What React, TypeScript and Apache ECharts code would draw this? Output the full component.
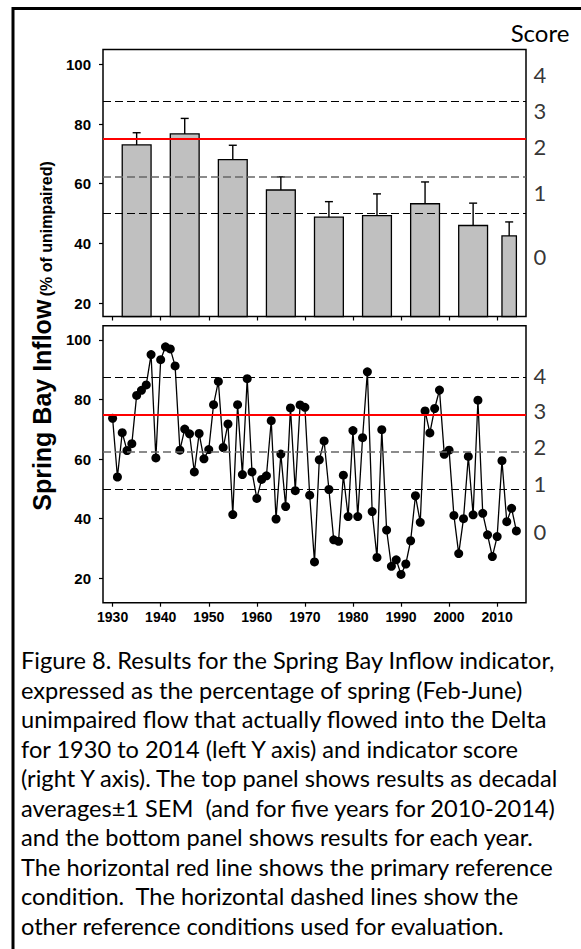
import { useEffect, useRef } from "react";
import * as echarts from "echarts";

// Spring Bay Inflow indicator: decadal means (top) and yearly values (bottom)

const AXIS_FONT = '"Liberation Sans", Arial, sans-serif';
const TEXT_FONT = 'Lato, "Noto Sans", sans-serif';

const X_MIN = 1928;
const X_MAX = 2016;
const TOP_Y_MIN = 15.5;
const TOP_Y_MAX = 105;
const BOT_Y_MIN = 11.8;
const BOT_Y_MAX = 104.8;

const decadeTicks = [1930, 1940, 1950, 1960, 1970, 1980, 1990, 2000, 2010];
const valueTicks = [20, 40, 60, 80, 100];

// top panel: decadal averages +1 SEM (last bar 2010-2014)
const periodCenters = [1935, 1945, 1955, 1965, 1975, 1985, 1995, 2005, 2012.5];
const periodWidths = [6, 6, 6, 6, 6, 6, 6, 6, 3];
const periodMeans = [73.0, 76.7, 68.1, 57.9, 48.8, 49.3, 53.3, 46.0, 42.5];
const periodSem = [4.1, 5.2, 4.8, 4.4, 5.2, 7.3, 7.3, 7.5, 4.7];

// bottom panel: each year 1930-2014
const firstYear = 1930;
const annualValues = [
  73.7, 54.0, 68.9, 62.9, 65.2, 81.4, 83.1, 84.9, 95.1, 60.4,
  93.4, 97.7, 97.0, 91.3, 63.0, 70.1, 68.5, 55.7, 68.6, 60.1,
  63.2, 78.3, 86.1, 63.9, 71.8, 41.4, 78.3, 54.8, 87.0, 55.7,
  46.8, 53.2, 54.4, 72.9, 39.9, 61.7, 44.1, 77.2, 49.4, 78.2,
  77.4, 47.9, 25.5, 59.8, 66.1, 49.8, 32.9, 32.4, 54.6, 40.7,
  69.6, 40.7, 67.2, 89.3, 42.4, 27.0, 69.9, 36.2, 24.0, 26.2,
  21.3, 24.8, 32.6, 47.7, 38.8, 76.2, 68.8, 77.0, 83.2, 61.6,
  63.0, 41.1, 28.3, 40.0, 60.9, 41.3, 79.8, 41.8, 34.6, 27.3,
  34.0, 59.5, 39.0, 43.5, 35.9,
];

// reference conditions
const dashedRefs = [87.5, 50];
const greyRef = 62.5;
const primaryRef = 75;

// score labels on the right, [position, score]
const topScoreAt = [96.7, 84.6, 72.4, 57.0, 35.5];
const bottomScoreAt = [88.2, 76.2, 64.2, 51.9, 35.7];
const scoreLabels = ["4", "3", "2", "1", "0"];

const captionLines = [
  "Figure 8. Results for the Spring Bay Inflow indicator,",
  "expressed as the percentage of spring (Feb-June)",
  "unimpaired flow that actually flowed into the Delta",
  "for 1930 to 2014 (left Y axis) and indicator score",
  "(right Y axis). The top panel shows results as decadal",
  "averages\u00b11 SEM  (and for five years for 2010-2014)",
  "and the bottom panel shows results for each year.",
  "The horizontal red line shows the primary reference",
  "condition.  The horizontal dashed lines show the",
  "other reference conditions used for evaluation.",
];

const xAxisFor = (grid: number, labels: boolean) => ({
  gridIndex: grid,
  type: "value",
  min: X_MIN,
  max: X_MAX,
  splitLine: { show: false },
  axisLine: { show: false, onZero: false },
  axisTick: {
    show: true,
    inside: false,
    length: 4,
    customValues: decadeTicks,
    lineStyle: { color: "#000", width: 1.2 },
  },
  axisLabel: {
    show: labels,
    customValues: decadeTicks,
    formatter: (v: number) => String(v),
    fontFamily: AXIS_FONT,
    fontWeight: "bold",
    fontSize: 14,
    color: "#000",
    margin: 7,
  },
});

const yAxisFor = (grid: number, min: number, max: number) => ({
  gridIndex: grid,
  type: "value",
  min,
  max,
  splitLine: { show: false },
  axisLine: { show: false },
  axisTick: {
    show: true,
    inside: false,
    length: 4,
    customValues: valueTicks,
    lineStyle: { color: "#000", width: 1.2 },
  },
  axisLabel: {
    customValues: valueTicks,
    fontFamily: AXIS_FONT,
    fontWeight: "bold",
    fontSize: 15,
    color: "#000",
    margin: 12,
  },
});

// empty series carrying horizontal reference lines
const refSeries = (grid: number, z: number, lines: any[]) => ({
  type: "line",
  xAxisIndex: grid,
  yAxisIndex: grid,
  data: [],
  z,
  silent: true,
  markLine: {
    silent: true,
    symbol: ["none", "none"],
    label: { show: false },
    animation: false,
    data: lines,
  },
});

const dashed = (v: number) => ({
  yAxis: v,
  lineStyle: { color: "#000", width: 1.2, type: [8, 4] },
});
const grey = (v: number) => ({
  yAxis: v,
  lineStyle: { color: "#666", width: 1.6, type: [8, 4] },
});
const red = (v: number) => ({
  yAxis: v,
  lineStyle: { color: "#ff0000", width: 1.8, type: "solid" },
});

const scoreSeries = (grid: number, at: number[]) => ({
  type: "scatter",
  xAxisIndex: grid,
  yAxisIndex: grid,
  symbolSize: 1,
  itemStyle: { color: "transparent" },
  silent: true,
  clip: false,
  data: at.map((y, i) => [X_MAX, y, scoreLabels[i]]),
  label: {
    show: true,
    position: "right",
    distance: 7,
    formatter: (p: any) => p.value[2],
    fontFamily: TEXT_FONT,
    fontSize: 22,
    color: "#000",
  },
});

export default function App() {
  const ref = useRef<HTMLDivElement>(null);

  useEffect(() => {
    if (!ref.current) return;
    const chart = echarts.init(ref.current, null, { renderer: "svg" });

    const barData = periodCenters.map((c, i) => [
      c,
      periodWidths[i],
      periodMeans[i],
      periodSem[i],
    ]);
    const yearData = annualValues.map((v, i) => [firstYear + i, v]);

    chart.setOption({
      animation: false,
      backgroundColor: "#fff",
      grid: [
        {
          left: 103,
          top: 49.5,
          width: 423,
          height: 267,
          show: true,
          borderColor: "#000",
          borderWidth: 1.5,
          backgroundColor: "transparent",
        },
        {
          left: 103,
          top: 325.7,
          width: 423,
          height: 277,
          show: true,
          borderColor: "#000",
          borderWidth: 1.5,
          backgroundColor: "transparent",
        },
      ],
      xAxis: [xAxisFor(0, false), xAxisFor(1, true)],
      yAxis: [
        yAxisFor(0, TOP_Y_MIN, TOP_Y_MAX),
        yAxisFor(1, BOT_Y_MIN, BOT_Y_MAX),
      ],
      series: [
        refSeries(0, 1, [...dashedRefs.map(dashed), grey(greyRef)]),
        {
          type: "custom",
          xAxisIndex: 0,
          yAxisIndex: 0,
          z: 2,
          data: barData,
          encode: { x: 0, y: 2 },
          renderItem: (_params: any, api: any) => {
            const c = api.value(0);
            const w = api.value(1);
            const m = api.value(2);
            const s = api.value(3);
            const tl = api.coord([c - w / 2, m]);
            const br = api.coord([c + w / 2, TOP_Y_MIN]);
            const base = api.coord([c, m]);
            const top = api.coord([c, m + s]);
            const line = { stroke: "#000", lineWidth: 1.4 };
            return {
              type: "group",
              children: [
                {
                  type: "rect",
                  shape: {
                    x: tl[0],
                    y: tl[1],
                    width: br[0] - tl[0],
                    height: br[1] - tl[1],
                  },
                  style: { fill: "#c0c0c0", stroke: "#000", lineWidth: 1.3 },
                },
                {
                  type: "line",
                  shape: { x1: base[0], y1: base[1], x2: top[0], y2: top[1] },
                  style: line,
                },
                {
                  type: "line",
                  shape: { x1: top[0] - 4, y1: top[1], x2: top[0] + 4, y2: top[1] },
                  style: line,
                },
              ],
            };
          },
        },
        refSeries(0, 3, [red(primaryRef)]),
        scoreSeries(0, topScoreAt),

        refSeries(1, 1, [...dashedRefs.map(dashed), grey(greyRef), red(primaryRef)]),
        {
          type: "line",
          xAxisIndex: 1,
          yAxisIndex: 1,
          z: 3,
          data: yearData,
          symbol: "circle",
          symbolSize: 9,
          itemStyle: { color: "#000" },
          lineStyle: { color: "#000", width: 1.3 },
        },
        scoreSeries(1, bottomScoreAt),
      ],
      graphic: [
        {
          type: "line",
          shape: { x1: 13, y1: 8.5, x2: 581, y2: 8.5 },
          style: { stroke: "#000", lineWidth: 3 },
        },
        {
          type: "line",
          shape: { x1: 13, y1: 7, x2: 13, y2: 949 },
          style: { stroke: "#000", lineWidth: 3 },
        },
        {
          type: "text",
          x: 540,
          y: 32,
          style: {
            text: "Score",
            fontFamily: TEXT_FONT,
            fontSize: 24,
            fill: "#000",
            align: "center",
            verticalAlign: "middle",
          },
        },
        {
          type: "text",
          x: 42,
          y: 336,
          rotation: Math.PI / 2,
          style: {
            text: "{a|Spring Bay Inflow} {b|(% of unimpaired)}",
            align: "center",
            verticalAlign: "middle",
            rich: {
              a: {
                fontFamily: AXIS_FONT,
                fontWeight: "bold",
                fontSize: 25,
                fill: "#000",
                verticalAlign: "bottom",
              },
              b: {
                fontFamily: AXIS_FONT,
                fontWeight: "bold",
                fontSize: 16,
                fill: "#000",
                verticalAlign: "bottom",
              },
            },
          },
        },
        ...captionLines.map((t, i) => ({
          type: "text",
          x: 21,
          y: 660 + i * 29.5,
          style: {
            text: t,
            fontFamily: TEXT_FONT,
            fontSize: 23.6,
            fill: "#000",
            align: "left",
            verticalAlign: "middle",
          },
        })),
      ],
    });

    return () => chart.dispose();
  }, []);

  return (
    <div
      ref={ref}
      style={{
        position: "absolute",
        left: 0,
        top: 0,
        width: 581,
        height: 949,
        background: "#fff",
      }}
    />
  );
}
